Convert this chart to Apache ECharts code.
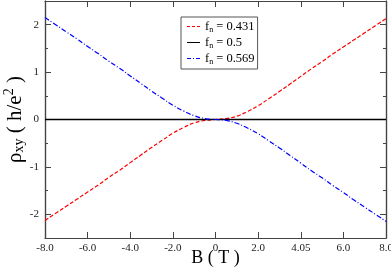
<!DOCTYPE html>
<html><head><meta charset="utf-8">
<script src="https://cdn.jsdelivr.net/npm/echarts@6/dist/echarts.min.js"></script>
<style>html,body{margin:0;padding:0;background:#fff}#c{width:391px;height:268px}</style>
</head><body><div id="c"></div>
<script>
const B = [-8,-7.5,-7,-6.5,-6,-5.5,-5,-4.5,-4,-3.5,-3,-2.5,-2,-1.5,-1,-0.5,0,0.5,1,1.5,2,2.5,3,3.5,4,4.5,5,5.5,6,6.5,7,7.5,8];
const rho431 = [-2.13,-1.98,-1.83,-1.68,-1.53,-1.38,-1.22,-1.07,-0.91,-0.75,-0.59,-0.44,-0.29,-0.17,-0.07,-0.02,0,0.02,0.07,0.17,0.29,0.44,0.59,0.75,0.91,1.07,1.22,1.38,1.53,1.68,1.83,1.98,2.13];
const rho500 = [0,0,0,0,0,0,0,0,0,0,0,0,0,0,0,0,0,0,0,0,0,0,0,0,0,0,0,0,0,0,0,0,0];
const rho569 = [2.15,2.0,1.85,1.70,1.54,1.39,1.23,1.08,0.92,0.76,0.60,0.45,0.30,0.18,0.08,0.02,0,-0.02,-0.08,-0.18,-0.30,-0.45,-0.60,-0.76,-0.92,-1.08,-1.23,-1.39,-1.54,-1.70,-1.85,-2.0,-2.15];
const xTickValues = [-8,-6,-4,-2,0,2,4,6,8];
const xTickLabels = ['-8.0','-6.0','-4.0','-2.0','0','2.0','4.05','6.0','8.0'];
const yTickValues = [-2,-1,0,1,2];
const yTickLabels = ['-2','-1','0','1','2'];
const seriesNames = ['0.431','0.5','0.569'];

const font = 'Liberation Serif';
const axisColor = '#444';
const pair = (ys) => B.map((b,i)=>[b,ys[i]]);
const chart = echarts.init(document.getElementById('c'));
const grid = {left:45,right:5,top:1,bottom:30,containLabel:false,outerBoundsMode:'none'};
const yMinorTicks = [-2.5,-1.5,-0.5,0.5,1.5,2.5];
function yAx(pos, labels, ticks, len, name){
  return {type:'value',position:pos,min:-2.5,max:2.5,interval:0.5,
    axisLine:{show:true,onZero:false,lineStyle:{color:axisColor,width:1.2}},
    axisTick:{show:true,inside:true,length:len,customValues:ticks,lineStyle:{color:axisColor}},
    axisLabel:{show:labels,customValues:yTickValues,fontFamily:font,fontSize:11,color:'#222',margin:6,
      formatter:(v)=>{const i=yTickValues.indexOf(Math.round(v*1000)/1000);return i>=0?yTickLabels[i]:'';}},
    splitLine:{show:false},
    name:name||'',nameLocation:'middle',nameRotate:90,nameGap:17,nameMoveOverlap:false,
    nameTextStyle:{fontFamily:font,fontSize:21,color:'#000',
      rich:{m:{fontFamily:font,fontSize:21,color:'#000'},
            sub:{fontFamily:font,fontSize:14,color:'#000',padding:[8,0,0,0]},
            sup:{fontFamily:font,fontSize:14,color:'#000',padding:[0,0,12,0]}}}
  };
}
function xAx(pos, labels, name){
  return {type:'value',position:pos,min:-8,max:8,interval:2,
    axisLine:{show:true,onZero:false,lineStyle:{color:axisColor,width:1.2}},
    axisTick:{show:true,inside:true,length:6,lineStyle:{color:axisColor}},
    axisLabel:{show:labels,fontFamily:font,fontSize:11,color:'#222',margin:5,
      formatter:(v)=>{const i=xTickValues.indexOf(v);return i>=0?xTickLabels[i]:'';}},
    splitLine:{show:false},
    name:name||'',nameLocation:'middle',nameGap:11,nameMoveOverlap:false,
    nameTextStyle:{fontFamily:font,fontSize:18,color:'#000'}
  };
}
const legendRich = {t:{fontFamily:font,fontSize:12.5,color:'#000'},
  s:{fontFamily:font,fontSize:8,color:'#000',padding:[7,0,0,0]}};
const iconDash = 'path://M0,0h3v1h-3zM5,0h3v1h-3zM10,0h3v1h-3z';
const iconSolid = 'path://M0,0h13v1h-13z';
const iconDashDot = 'path://M0,0h4v1h-4zM6,0h1v1h-1zM9,0h4v1h-4z';
chart.setOption({
  animation:false,
  grid:grid,
  xAxis:[xAx('bottom',true,'B ( T )'), xAx('top',false)],
  yAxis:[
    yAx('left',true,yTickValues,6,'{m|ρ}{sub|xy}{m| ( h/e}{sup|2}{m| )}'),
    yAx('left',false,yMinorTicks,3),
    yAx('right',false,yTickValues,6),
    yAx('right',false,yMinorTicks,3)
  ],
  legend:{orient:'vertical',left:181,top:17,itemGap:2,itemWidth:13,itemHeight:1.3,
    padding:[3,3,3,6],borderColor:'#555',borderWidth:1,backgroundColor:'#fff',
    data:[{name:'f431',icon:iconDash},{name:'f500',icon:iconSolid},{name:'f569',icon:iconDashDot}],
    formatter:(n)=>'{t|f}{s|n}{t| = '+({f431:seriesNames[0],f500:seriesNames[1],f569:seriesNames[2]}[n])+'}',
    textStyle:{rich:legendRich}},
  series:[
    {name:'f431',type:'line',data:pair(rho431),showSymbol:false,symbol:'none',smooth:true,
      lineStyle:{color:'#ff0000',width:1.2,type:[4,2]},itemStyle:{color:'#ff0000'}},
    {name:'f500',type:'line',data:pair(rho500),showSymbol:false,symbol:'none',
      lineStyle:{color:'#000',width:1.3},itemStyle:{color:'#000'}},
    {name:'f569',type:'line',data:pair(rho569),showSymbol:false,symbol:'none',smooth:true,
      lineStyle:{color:'#0000ff',width:1.2,type:[5,2,1,2]},itemStyle:{color:'#0000ff'}}
  ]
});
</script></body></html>
